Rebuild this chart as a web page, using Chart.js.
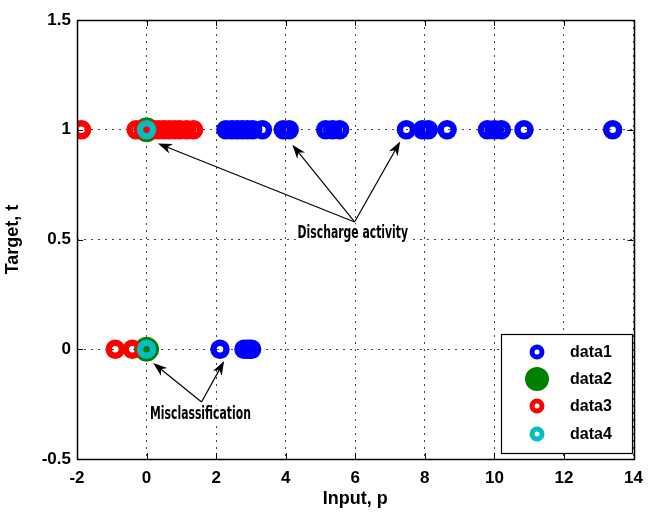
<!DOCTYPE html>
<html>
<head>
<meta charset="utf-8">
<script src="https://cdn.jsdelivr.net/npm/chart.js@4.4.1/dist/chart.umd.min.js"></script>
<style>
  html, body { margin: 0; padding: 0; background: #fff; }
  #wrap { width: 652px; height: 513px; position: relative; }
</style>
</head>
<body>
<div id="wrap"><canvas id="myChart"></canvas></div>
<script>
// values
const xTicks = [-2, 0, 2, 4, 6, 8, 10, 12, 14];
const yTicks = [-0.5, 0, 0.5, 1, 1.5];

const blueTop = [2.28, 2.45, 2.6, 2.75, 2.9, 3.05, 3.33, 3.93, 4.1, 5.15, 5.35, 5.55, 7.47, 7.93, 8.1, 8.64, 9.8, 10.0, 10.2, 10.85, 13.4];
const blueBottom = [2.11, 2.8, 2.88, 2.95, 3.02];
const greenX = [0, 0];
const greenY = [1, 0];
const redTop = [-1.87, -0.3, -0.1, 0, 0.2, 0.35, 0.5, 0.65, 0.8, 0.95, 1.15, 1.35];
const redBottom = [-0.9, -0.41, 0];
const cyanX = [0, 0];
const cyanY = [1, 0];

const labels = ["data1", "data2", "data3", "data4"];

// annotation texts and where the arrows point (data units)
const notes = [
    { text: "Discharge activity", at: [5.93, 0.525], from: [5.98, 0.58], to: [[0.33, 0.937], [4.19, 0.932], [7.29, 0.946]] },
    { text: "Misclassification", at: [1.55, -0.3], from: [1.58, -0.24], to: [[0.19, -0.063], [2.23, -0.054]] }
];

function pts(xs, y) {
    return xs.map(x => ({ x: x, y: y }));
}

const ring = { pointRadius: 6.5, pointBorderWidth: 6.5, backgroundColor: "rgba(0,0,0,0)", pointHoverRadius: 6.5 };

const datasets = [
    Object.assign({ label: labels[0], data: pts(blueTop, 1).concat(pts(blueBottom, 0)), borderColor: "#0000ff", order: 4 }, ring),
    { label: labels[1], data: greenX.map((x, i) => ({ x: x, y: greenY[i] })), backgroundColor: "#008000", borderColor: "#008000",
      pointRadius: 12, pointBorderWidth: 1, order: 3 },
    Object.assign({ label: labels[2], data: pts(redTop, 1).concat(pts(redBottom, 0)), borderColor: "#ff0000", order: 2 }, ring),
    Object.assign({ label: labels[3], data: cyanX.map((x, i) => ({ x: x, y: cyanY[i] })), borderColor: "#00bfbf", order: 1 }, ring)
];

const tickFont = { family: "Liberation Sans, Arial", size: 17, weight: "bold" };

// box, inward ticks, arrows, notes and legend
const extras = {
    id: "extras",
    afterDatasetsDraw(chart) {
        const c = chart.ctx;
        const a = chart.chartArea;
        const xs = chart.scales.x, ys = chart.scales.y;
        c.save();
        c.strokeStyle = "#000";
        c.lineWidth = 1;
        c.setLineDash([]);
        c.beginPath();
        xTicks.forEach(v => {
            const p = Math.round(xs.getPixelForValue(v)) + 0.5;
            c.moveTo(p, a.bottom); c.lineTo(p, a.bottom - 6);
            c.moveTo(p, a.top); c.lineTo(p, a.top + 6);
        });
        yTicks.forEach(v => {
            const p = Math.round(ys.getPixelForValue(v)) + 0.5;
            c.moveTo(a.left, p); c.lineTo(a.left + 6, p);
            c.moveTo(a.right, p); c.lineTo(a.right - 6, p);
        });
        c.stroke();
        c.lineWidth = 1.5;
        c.strokeRect(Math.round(a.left) + 0.5, Math.round(a.top) + 0.5, Math.round(a.right - a.left), Math.round(a.bottom - a.top));

        // arrows
        notes.forEach(n => {
            const ox = xs.getPixelForValue(n.from[0]), oy = ys.getPixelForValue(n.from[1]);
            n.to.forEach(t => {
                const tx = xs.getPixelForValue(t[0]), ty = ys.getPixelForValue(t[1]);
                const ang = Math.atan2(ty - oy, tx - ox);
                c.lineWidth = 1.2;
                c.beginPath();
                c.moveTo(ox, oy);
                c.lineTo(tx - 8 * Math.cos(ang), ty - 8 * Math.sin(ang));
                c.stroke();
                c.fillStyle = "#000";
                c.beginPath();
                c.moveTo(tx, ty);
                c.lineTo(tx - 14 * Math.cos(ang) + 5 * Math.sin(ang), ty - 14 * Math.sin(ang) - 5 * Math.cos(ang));
                c.lineTo(tx - 10 * Math.cos(ang), ty - 10 * Math.sin(ang));
                c.lineTo(tx - 14 * Math.cos(ang) - 5 * Math.sin(ang), ty - 14 * Math.sin(ang) + 5 * Math.cos(ang));
                c.closePath();
                c.fill();
            });
            const px = xs.getPixelForValue(n.at[0]), py = ys.getPixelForValue(n.at[1]);
            c.font = "bold 14px 'DejaVu Sans Condensed', 'DejaVu Sans'";
            c.textAlign = "center";
            c.textBaseline = "middle";
            c.save();
            c.translate(px, py);
            c.scale(0.86, 1.2);
            c.fillStyle = "#fff";
            const w = c.measureText(n.text).width;
            c.fillRect(-w / 2 - 2, -8, w + 4, 16);
            c.fillStyle = "#000";
            c.fillText(n.text, 0, 0);
            c.restore();
        });

        // legend box
        const lx = 501, ly = 334, lw = 131, lh = 119;
        c.fillStyle = "#fff";
        c.fillRect(lx, ly, lw, lh);
        c.strokeStyle = "#000";
        c.lineWidth = 1.2;
        c.strokeRect(lx + 0.5, ly + 0.5, lw, lh);
        const rows = [352, 379, 406, 434];
        c.font = "bold 16px 'Liberation Sans', Arial";
        c.textAlign = "left";
        c.textBaseline = "middle";
        datasets.forEach((d, i) => {
            const mx = 537, my = rows[i];
            c.beginPath();
            if (d.pointRadius === 12) {
                c.arc(mx, my, 12, 0, Math.PI * 2);
                c.fillStyle = d.backgroundColor;
                c.fill();
            } else {
                c.arc(mx, my, 5, 0, Math.PI * 2);
                c.lineWidth = 5;
                c.strokeStyle = d.borderColor;
                c.stroke();
            }
            c.fillStyle = "#000";
            c.fillText(d.label, 570, my + 1);
        });
        c.restore();
    }
};

const ctx = document.getElementById("myChart").getContext("2d");
const chart = new Chart(ctx, {
    type: "scatter",
    data: { datasets: datasets },
    options: {
        responsive: true,
        maintainAspectRatio: false,
        animation: false,
        layout: { padding: { top: 20, right: 11, left: 0, bottom: 0 } },
        plugins: { legend: { display: false }, tooltip: { enabled: false } },
        scales: {
            x: {
                type: "linear",
                min: -2, max: 14,
                afterBuildTicks: s => { s.ticks = xTicks.map(v => ({ value: v })); },
                afterFit: s => { s.height = 54; },
                ticks: { color: "#000", font: tickFont, padding: 9, maxRotation: 0, callback: v => String(v) },
                grid: { color: "#444", lineWidth: 1, drawTicks: false },
                border: { display: false, dash: [2, 5] },
                title: { display: true, text: "Input, p", color: "#000",
                    font: { family: "Liberation Sans, Arial", size: 18, weight: "bold" }, padding: { top: 0, bottom: 3 } }
            },
            y: {
                type: "linear",
                min: -0.5, max: 1.5,
                afterBuildTicks: s => { s.ticks = yTicks.map(v => ({ value: v })); },
                afterFit: s => { s.width = 77; },
                ticks: { color: "#000", font: tickFont, padding: 6, callback: v => String(v) },
                grid: { color: "#444", lineWidth: 1, drawTicks: false },
                border: { display: false, dash: [2, 5] },
                title: { display: true, text: "Target, t", color: "#000",
                    font: { family: "Liberation Sans, Arial", size: 18, weight: "bold" }, padding: { top: 2, bottom: 0 } }
            }
        }
    },
    plugins: [extras]
});
</script>
</body>
</html>
